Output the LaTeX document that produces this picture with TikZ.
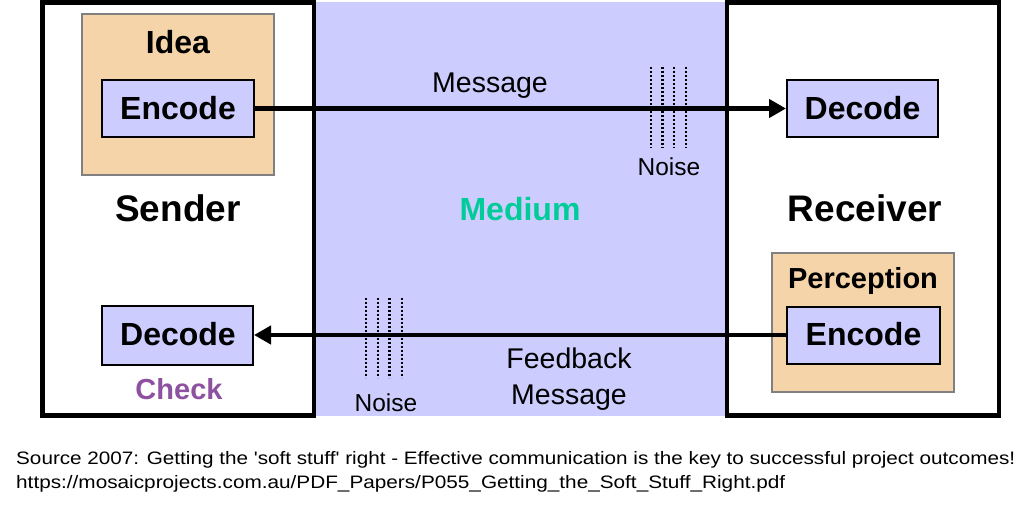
\documentclass[tikz,border=0pt]{standalone}
\usepackage{fontspec}
\setmainfont{Liberation Sans}
\usepackage{graphicx}
\usetikzlibrary{arrows.meta}
\definecolor{lav}{RGB}{204,204,255}
\definecolor{peach}{RGB}{246,212,169}
\definecolor{bgray}{RGB}{128,128,128}
\definecolor{medteal}{RGB}{0,204,153}
\definecolor{purp}{RGB}{142,80,160}
\tikzset{
  frame/.style={line width=4.5pt},
  outerbox/.style={draw=bgray, fill=peach, line width=1.8pt, inner sep=0pt},
  codebox/.style={draw=black, fill=lav, line width=2pt, inner sep=0pt, minimum height=57pt},
  lbl/.style={anchor=base, inner sep=0pt},
  boldlbl/.style={lbl, font=\bfseries\fontsize{32}{32}\selectfont},
  biglbl/.style={lbl, font=\bfseries\fontsize{37}{37}\selectfont},
  reglbl/.style={lbl, font=\fontsize{28.5}{28.5}\selectfont},
  noiselbl/.style={lbl, font=\fontsize{24.5}{24.5}\selectfont},
  flow/.style={line width=4.5pt, -{Triangle[length=17pt,width=18pt]}},
  noiseline/.style={line width=2.2pt, dash pattern=on 2pt off 2pt}
}
\begin{document}
\begin{tikzpicture}[x=1pt,y=-1pt]
\useasboundingbox (0,0) rectangle (1029,507);
% medium background
\fill[lav] (315,2) rectangle (727,416);
% frames
\draw[frame] (42.5,2.5) rectangle (314,415.5);
\draw[frame] (727,2.5) rectangle (999,415.5);

% sender side
\node[outerbox, minimum width=192pt, minimum height=161pt] (idea) at (178,94.5) {};
\node[boldlbl] (idealbl) at (178,53.5) {Idea};
\node[codebox, minimum width=152pt] (encS) at (178,108.5) {};
\node[boldlbl] (encSlbl) at (178,119) {Encode};
\node[biglbl] (sender) at (178,221.5) {Sender};
\node[codebox, minimum width=151pt, minimum height=59pt] (decS) at (177.5,335) {};
\node[boldlbl] (decSlbl) at (178,345.5) {Decode};
\node[lbl, font=\bfseries\fontsize{29}{29}\selectfont, text=purp] (check) at (179,399.5) {Check};

% medium
\node[reglbl] (msg) at (490,92.5) {Message};
\node[lbl, font=\bfseries\fontsize{32}{32}\selectfont, text=medteal] (medium) at (520,220.5) {Medium};
\node[reglbl] (fb1) at (569,368.5) {Feedback};
\node[reglbl] (fb2) at (569,404) {Message};
\node[noiselbl] (noise1) at (669,175.5) {Noise};
\node[noiselbl] (noise2) at (386,411.5) {Noise};

% receiver side
\node[codebox, minimum width=151pt] (decR) at (862.5,108.5) {};
\node[boldlbl] (decRlbl) at (862.5,119) {Decode};
\node[biglbl] (receiver) at (865,221.5) {Receiver};
\node[outerbox, minimum width=182pt, minimum height=139pt] (perc) at (863,322.5) {};
\node[lbl, font=\bfseries\fontsize{29}{29}\selectfont] (perclbl) at (863,288.5) {Perception};
\node[codebox, minimum width=153pt] (encR) at (863.5,335) {};
\node[boldlbl] (encRlbl) at (863.5,345.5) {Encode};

% connectors
\draw[flow] (encS.east) -- (decR.west);
\draw[flow] (encR.west) -- (decS.east);

% noise marks
\foreach \x in {651,662.5,674,686}
  \draw[noiseline] (\x,67) -- (\x,148);
\foreach \x in {366,378,389.5,402}
  \draw[noiseline] (\x,298) -- (\x,378);

% source text
\node[lbl, anchor=base west] (src1) at (16,464) {\resizebox{999pt}{\height}{\fontsize{18}{18}\selectfont Source 2007: Getting the \textquotesingle soft stuff\textquotesingle\ right - Effective communication is the key to successful project outcomes!}};
\node[lbl, anchor=base west] (src2) at (16,488) {\resizebox{769pt}{\height}{\fontsize{18}{18}\selectfont https://mosaicprojects.com.au/PDF\_Papers/P055\_Getting\_the\_Soft\_Stuff\_Right.pdf}};
\end{tikzpicture}
\end{document}
